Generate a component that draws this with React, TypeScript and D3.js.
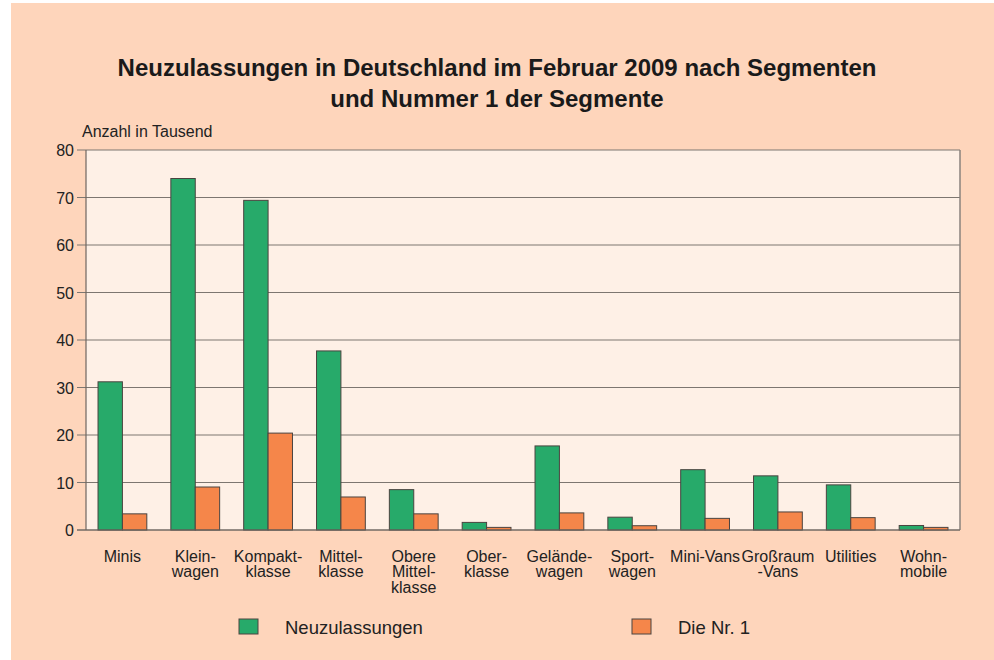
import React from "react";
import * as d3 from "d3";

// categories (multi-line labels)
const categories = [
  ["Minis"],
  ["Klein-", "wagen"],
  ["Kompakt-", "klasse"],
  ["Mittel-", "klasse"],
  ["Obere", "Mittel-", "klasse"],
  ["Ober-", "klasse"],
  ["Gelände-", "wagen"],
  ["Sport-", "wagen"],
  ["Mini-Vans"],
  ["Großraum", "-Vans"],
  ["Utilities"],
  ["Wohn-", "mobile"],
];
const neuzulassungen = [31.2, 74.0, 69.4, 37.7, 8.5, 1.6, 17.7, 2.7, 12.7, 11.4, 9.5, 0.95];
const dieNr1 = [3.4, 9.05, 20.4, 6.95, 3.4, 0.55, 3.6, 0.9, 2.45, 3.8, 2.6, 0.55];
const yTicks = [0, 10, 20, 30, 40, 50, 60, 70, 80];
const seriesNames = ["Neuzulassungen", "Die Nr. 1"];
const colors = ["#27aa6a", "#f5864a"];

const W = 994;
const H = 660;
const m = { left: 86, right: 960, top: 150, bottom: 530 };
const font = "'Liberation Sans', Arial, sans-serif";

export default function App() {
  const keys = categories.map((c) => c.join(""));
  const x = d3.scaleBand().domain(keys).range([m.left, m.right]).paddingInner(0.33).paddingOuter(0.165);
  const x1 = d3.scaleBand().domain(seriesNames).range([0, x.bandwidth()]);
  const y = d3.scaleLinear().domain([0, 80]).range([m.bottom, m.top]);
  const series = [neuzulassungen, dieNr1];

  return (
    <svg width={W} height={H} style={{ position: "absolute", left: 0, top: 0, fontFamily: font }}>
      <rect x={0} y={0} width={W} height={H} fill="#ffffff" />
      <rect x={11} y={3} width={W - 11} height={H - 3} fill="#fed5bb" />
      <text x={497} y={76} textAnchor="middle" fontSize={24} fontWeight="bold" fill="#1a1a1a">
        Neuzulassungen in Deutschland im Februar 2009 nach Segmenten
      </text>
      <text x={497} y={107} textAnchor="middle" fontSize={24} fontWeight="bold" fill="#1a1a1a">
        und Nummer 1 der Segmente
      </text>
      <text x={82} y={137} fontSize={16} fill="#222">Anzahl in Tausend</text>

      {/* plot area */}
      <rect x={m.left} y={m.top} width={m.right - m.left} height={m.bottom - m.top} fill="#fef0e6" />
      {yTicks.map((t) => (
        <g key={t}>
          <line x1={m.left - 9} x2={m.right} y1={y(t)} y2={y(t)} stroke="#7d7670" strokeWidth={1} />
          <text x={74} y={y(t) + 6} textAnchor="end" fontSize={16} fill="#222">{t}</text>
        </g>
      ))}
      <line x1={m.left} x2={m.left} y1={m.top} y2={m.bottom} stroke="#6e6660" strokeWidth={1.2} />
      <line x1={m.right} x2={m.right} y1={m.top} y2={m.bottom} stroke="#8a827c" strokeWidth={1.5} />

      {/* bars */}
      {series.map((vals, si) =>
        vals.map((v, i) => (
          <rect
            key={`${si}-${i}`}
            x={(x(keys[i]) ?? 0) + (x1(seriesNames[si]) ?? 0)}
            y={y(v)}
            width={x1.bandwidth()}
            height={y(0) - y(v)}
            fill={colors[si]}
            stroke="#4a4440"
            strokeWidth={1}
          />
        ))
      )}
      <line x1={m.left - 9} x2={m.right} y1={y(0)} y2={y(0)} stroke="#6e6660" strokeWidth={1.2} />

      {/* category labels */}
      {categories.map((lines, i) => (
        <text key={i} textAnchor="middle" fontSize={16} fill="#222">
          {lines.map((l, j) => (
            <tspan key={j} x={(x(keys[i]) ?? 0) + x.bandwidth() / 2} y={561.5 + j * 15.5}>{l}</tspan>
          ))}
        </text>
      ))}

      {/* legend */}
      {seriesNames.map((s, i) => {
        const lx = [239, 632][i];
        return (
          <g key={s}>
            <rect x={lx} y={619} width={19} height={15} fill={colors[i]} stroke="#4a4440" strokeWidth={1} />
            <text x={lx + 46} y={634} fontSize={18.5} fill="#222">{s}</text>
          </g>
        );
      })}
    </svg>
  );
}
